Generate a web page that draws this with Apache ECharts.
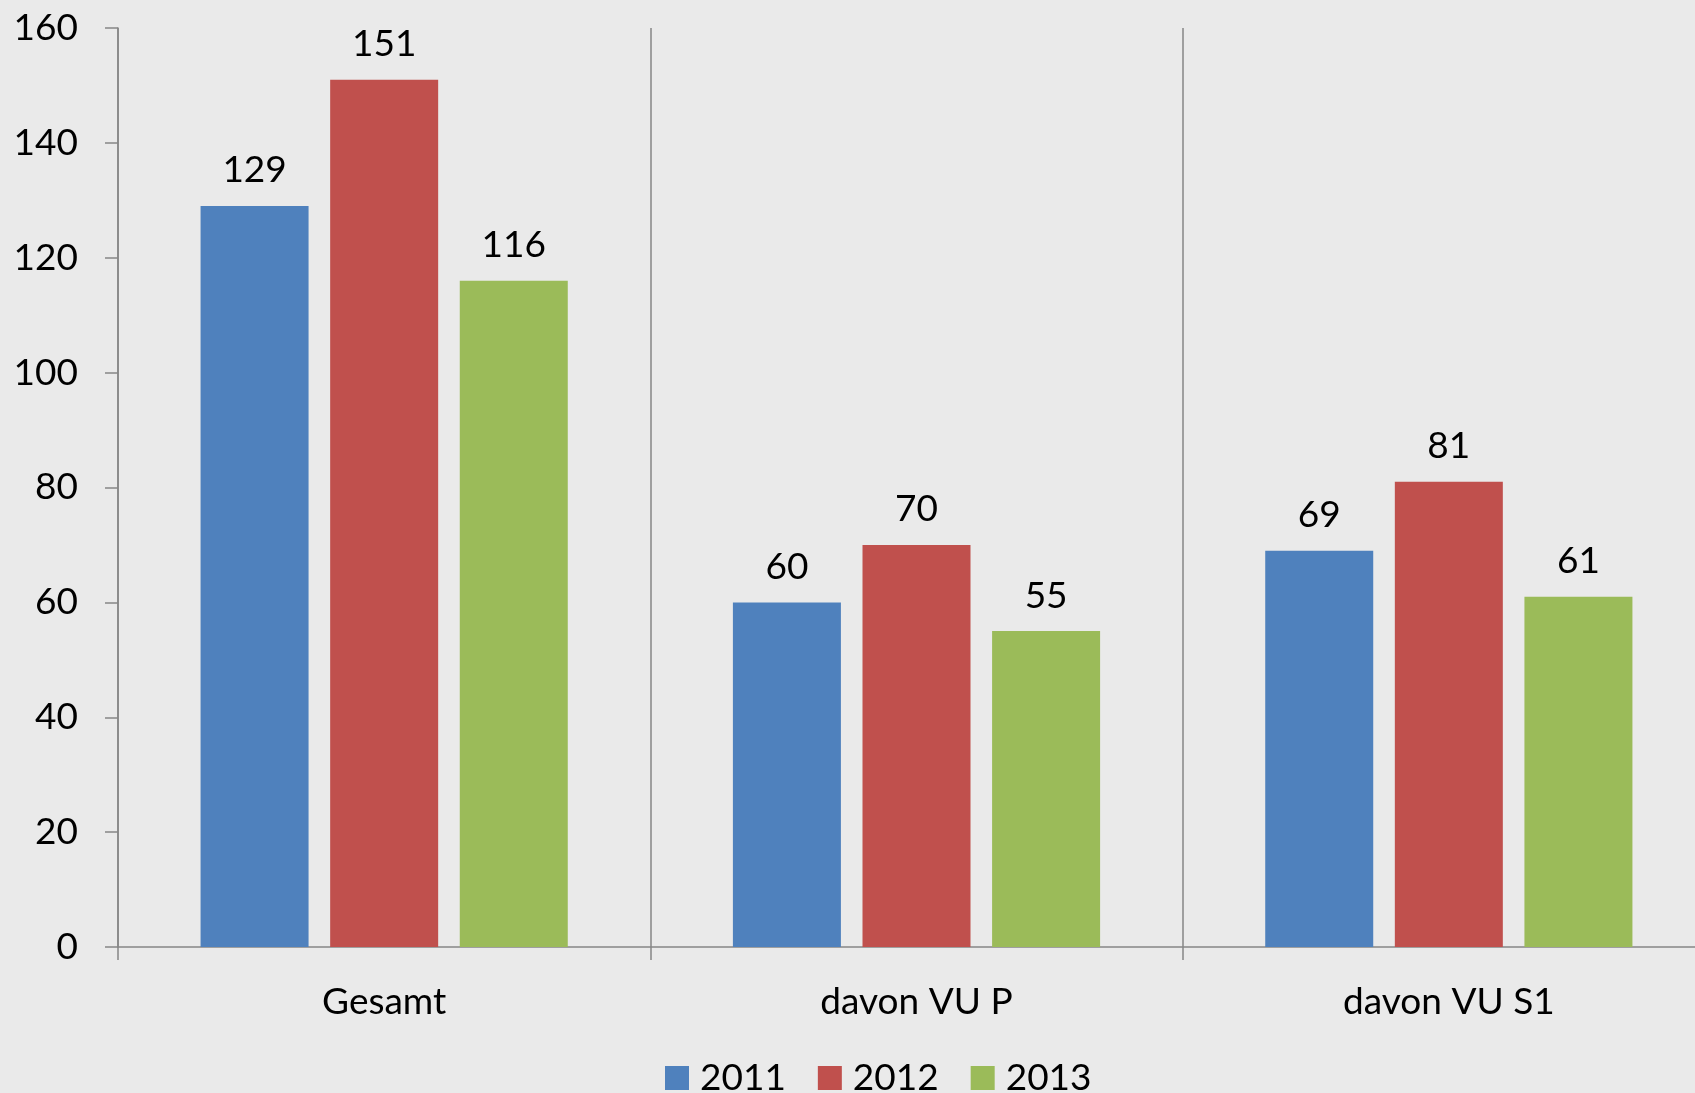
<!DOCTYPE html>
<html>
<head>
<meta charset="utf-8">
<script src="https://cdn.jsdelivr.net/npm/echarts@6/dist/echarts.min.js"></script>
<style>
html,body{margin:0;padding:0;background:#EAEAEA;overflow:hidden;width:1695px;height:1093px;}
#chart{width:1715px;height:1093px;}
</style>
</head>
<body>
<div id="chart"></div>
<script>
const categories = ['Gesamt', 'davon VU P', 'davon VU S1'];
const seriesNames = ['2011', '2012', '2013'];
const values2011 = [129, 60, 69];
const values2012 = [151, 70, 81];
const values2013 = [116, 55, 61];
const yTicks = [0, 20, 40, 60, 80, 100, 120, 140, 160];

const colors = ['#4F81BD', '#C0504D', '#9BBB59'];
const FONT = 'Lato';
const FS = 37;
const axisColor = '#868686';

const chart = echarts.init(document.getElementById('chart'), null, {renderer: 'canvas'});
const seriesData = [values2011, values2012, values2013];

chart.setOption({
  backgroundColor: '#EAEAEA',
  animation: false,
  textStyle: {fontFamily: FONT},
  grid: {left: 118, top: 28, height: 919, right: 0, containLabel: false},
  legend: {
    data: seriesNames.map((n, i) => ({name: n, icon: 'rect', itemStyle: {color: colors[i]}})),
    left: 660,
    top: 1053,
    itemWidth: 24,
    itemHeight: 24,
    itemGap: 32,
    textStyle: {fontFamily: FONT, fontSize: FS, color: '#000', padding: [0, 0, 0, 6], lineHeight: 40}
  },
  xAxis: {
    type: 'category',
    data: categories,
    axisLine: {show: true, lineStyle: {color: axisColor, width: 1.5}},
    axisTick: {show: true, length: 13, lineStyle: {color: axisColor, width: 1.5}},
    splitLine: {show: true, lineStyle: {color: axisColor, width: 1.5}},
    axisLabel: {fontFamily: FONT, fontSize: FS, color: '#000', margin: 37}
  },
  yAxis: {
    type: 'value',
    min: yTicks[0],
    max: yTicks[yTicks.length - 1],
    interval: yTicks[1] - yTicks[0],
    axisLine: {show: true, lineStyle: {color: axisColor, width: 1.5}},
    axisTick: {show: true, length: 13, lineStyle: {color: axisColor, width: 1.5}},
    splitLine: {show: false},
    axisLabel: {fontFamily: FONT, fontSize: FS, color: '#000', margin: 40}
  },
  series: seriesNames.map((name, i) => ({
    name: name,
    type: 'bar',
    data: seriesData[i],
    barWidth: 108,
    barGap: '20%',
    itemStyle: {color: colors[i]},
    label: {
      show: true,
      position: 'top',
      distance: 17,
      fontFamily: FONT,
      fontSize: FS,
      color: '#000'
    }
  }))
});
</script>
</body>
</html>
